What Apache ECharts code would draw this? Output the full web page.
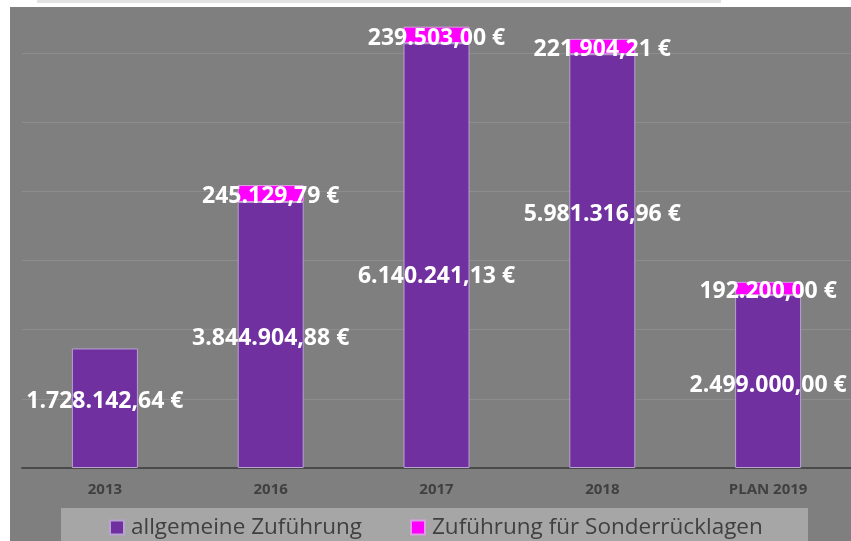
<!DOCTYPE html>
<html>
<head>
<meta charset="utf-8">
<script src="https://cdn.jsdelivr.net/npm/echarts@6/dist/echarts.min.js"></script>
<style>
html,body{margin:0;padding:0;background:#ffffff;}
#chart{width:851px;height:541px;}
</style>
</head>
<body>
<div id="chart"></div>
<script>
const categories = ['2013', '2016', '2017', '2018', 'PLAN 2019'];
const allgemeine = [1728142.64, 3844904.88, 6140241.13, 5981316.96, 2499000.00];
const sonder = [null, 245129.79, 239503.00, 221904.21, 192200.00];
const seriesNames = ['allgemeine Zuführung', 'Zuführung für Sonderrücklagen'];

// label vertical nudges (styling only)
const purpleLabelShift = [-7, 3, 21, -47, 4];
const magentaLabelShift = [0, 3, 4, 3, 3];

function fmtEuro(v) {
  const parts = v.toFixed(2).split('.');
  const intPart = parts[0].replace(/\B(?=(\d{3})+(?!\d))/g, '.');
  return intPart + ',' + parts[1] + ' €';
}

const labelFont = {
  show: true,
  position: 'inside',
  color: '#ffffff',
  fontFamily: 'Open Sans',
  fontWeight: 'bold',
  fontSize: 23
};

const chart = echarts.init(document.getElementById('chart'), null, {renderer: 'canvas'});
chart.setOption({
  animation: false,
  backgroundColor: '#ffffff',
  graphic: [
    {type: 'rect', z: -10, shape: {x: 37, y: 0, width: 684, height: 3}, style: {fill: '#e2e2e2'}},
    {type: 'rect', z: -10, shape: {x: 10, y: 7, width: 841, height: 534}, style: {fill: '#7f7f7f'}},
    {type: 'rect', z: -5, shape: {x: 61, y: 508, width: 747, height: 40}, style: {fill: '#a6a6a6'}}
  ],
  grid: {left: 22, right: 0, top: 7, bottom: 73, containLabel: false},
  xAxis: {
    type: 'category',
    data: categories,
    axisLine: {show: true, lineStyle: {color: '#4a4a4a', width: 2}},
    axisTick: {show: false},
    axisLabel: {color: '#404040', fontFamily: 'Open Sans', fontWeight: 'bold', fontSize: 15, margin: 14}
  },
  yAxis: {
    type: 'value',
    min: 0,
    max: 6664000,
    interval: 1000000,
    axisLine: {show: false},
    axisTick: {show: false},
    axisLabel: {show: false},
    splitLine: {show: true, showMaxLine: false, lineStyle: {color: '#8d8d8d', width: 1}}
  },
  legend: {
    left: 104,
    top: 511,
    itemWidth: 14,
    itemHeight: 14,
    itemGap: 48,
    icon: 'rect',
    textStyle: {color: '#404040', fontFamily: 'Open Sans', fontSize: 22.5, padding: [0, 0, 0, 2]},
    data: seriesNames
  },
  series: [
    {
      name: seriesNames[0],
      type: 'bar',
      stack: 'total',
      barWidth: 66,
      itemStyle: {color: '#7030a0', borderColor: '#b7a2d2', borderWidth: 1},
      data: allgemeine.map((v, i) => ({
        value: v,
        label: Object.assign({}, labelFont, {offset: [0, purpleLabelShift[i]], formatter: () => fmtEuro(v)})
      }))
    },
    {
      name: seriesNames[1],
      type: 'bar',
      stack: 'total',
      barWidth: 66,
      itemStyle: {color: '#ff00ff', borderColor: '#d9a0e0', borderWidth: 1},
      data: sonder.map((v, i) => v === null ? {value: null} : ({
        value: v,
        label: Object.assign({}, labelFont, {offset: [0, magentaLabelShift[i]], formatter: () => fmtEuro(v)})
      }))
    }
  ]
});
</script>
</body>
</html>
